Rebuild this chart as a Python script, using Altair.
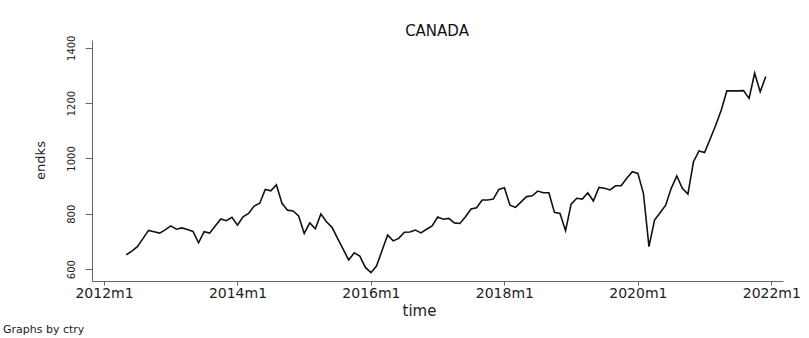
import altair as alt
import pandas as pd

title_text = "CANADA"
y_title = "endks"
x_title = "time"
note_text = "Graphs by ctry"

start_year = 2012
start_month = 5  # 2012m5

endks = [
    652, 665, 681, 710, 740, 735, 730, 742, 756, 744, 749, 743,
    736, 695, 735, 730, 756, 781, 775, 787, 759, 789, 801, 828,
    838, 888, 883, 905, 838, 813, 810, 792, 729, 767, 746, 799,
    771, 751, 711, 672, 633, 659, 647, 606, 587, 611, 667, 723,
    702, 711, 733, 734, 741, 731, 744, 756, 788, 780, 783, 767,
    765, 789, 817, 822, 850, 850, 853, 888, 894, 831, 823, 843,
    862, 865, 882, 876, 876, 805, 801, 739, 835, 856, 853, 876,
    846, 895, 892, 886, 901, 901, 928, 952, 946, 874, 681, 777,
    804, 831, 892, 937, 892, 871, 988, 1027, 1021, 1070, 1120, 1175,
    1244, 1244, 1244, 1245, 1217, 1308, 1241, 1296,
]

x_tick_values = [0, 24, 48, 72, 96, 120]   # months since 2012m1
y_tick_values = [600, 800, 1000, 1200, 1400]

rows = []
for i, v in enumerate(endks):
    m = (start_month - 1) + i
    y = start_year + m // 12
    mo = m % 12 + 1
    rows.append({"m": m, "time": f"{y}m{mo}", "endks": v})
df = pd.DataFrame(rows)

FONT = "DejaVu Sans"
AXIS_COLOR = "#666666"

line = alt.Chart(df).mark_line(color="#111111", strokeWidth=1.6).encode(
    x=alt.X(
        "m:Q",
        scale=alt.Scale(domain=[-2.16, 122.1], nice=False, zero=False),
        axis=alt.Axis(
            values=x_tick_values,
            labelExpr="(2012 + datum.value / 12) + 'm1'",
            grid=False,
            domainColor=AXIS_COLOR,
            tickColor=AXIS_COLOR,
            tickSize=4,
            labelFont=FONT,
            labelFontSize=14,
            labelColor="#222222",
            labelPadding=1,
            title=x_title,
            titleFont=FONT,
            titleFontSize=15,
            titleFontWeight="normal",
            titleColor="#222222",
            titleX=327,
            titleY=29,
            titleAlign="center",
            titleBaseline="middle",
        ),
    ),
    y=alt.Y(
        "endks:Q",
        scale=alt.Scale(domain=[557, 1428], nice=False, zero=False),
        axis=alt.Axis(
            values=y_tick_values,
            format="d",
            grid=False,
            domainColor=AXIS_COLOR,
            tickColor=AXIS_COLOR,
            tickSize=7,
            labelFont=FONT,
            labelFontSize=10,
            labelColor="#222222",
            labelAngle=270,
            labelAlign="center",
            labelBaseline="alphabetic",
            labelPadding=11,
            title=y_title,
            titleFont=FONT,
            titleFontSize=13,
            titleFontWeight="normal",
            titleColor="#222222",
            titleAngle=270,
            titleX=-52,
            titleY=120,
            titleAlign="center",
            titleBaseline="middle",
        ),
    ),
)

title_mark = alt.Chart(pd.DataFrame({"t": [title_text]})).mark_text(
    align="center", baseline="middle", font=FONT, fontSize=15, color="#111111"
).encode(text="t:N", x=alt.value(345), y=alt.value(-9))

note = alt.Chart(pd.DataFrame({"t": [note_text]})).mark_text(
    align="left", baseline="middle", font=FONT, fontSize=11, color="#222222"
).encode(text="t:N", x=alt.value(-89), y=alt.value(290))

chart = alt.layer(line, title_mark, note).properties(
    width=691,
    height=241,
    padding={"left": 92, "top": 40, "right": 26, "bottom": 57},
    autosize=alt.AutoSizeParams(type="none"),
    background="white",
).configure_view(stroke=None)

chart.save("out.html", embed_options={"renderer": "svg", "actions": False})
